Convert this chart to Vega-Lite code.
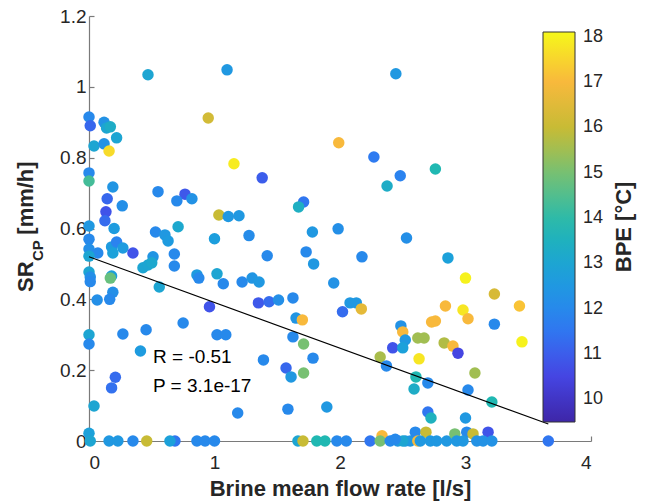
{
  "$schema": "https://vega.github.io/schema/vega-lite/v6.json",
  "width": 502,
  "height": 425,
  "autosize": {"type": "none"},
  "padding": {"left": 89, "top": 16, "right": 57, "bottom": 63},
  "background": "white",
  "config": {
    "view": {"stroke": null},
    "font": "Liberation Sans",
    "axis": {
      "grid": false,
      "domainColor": "#7a7a7a",
      "domainWidth": 1.2,
      "tickColor": "#7a7a7a",
      "tickWidth": 1.2,
      "tickSize": -5,
      "labelFont": "Liberation Sans",
      "labelFontSize": 19,
      "labelColor": "#262626",
      "titleFont": "Liberation Sans",
      "titleFontSize": 22,
      "titleFontWeight": "bold",
      "titleColor": "#262626"
    }
  },
  "layer": [
    {
      "data": {"values": [
        {"flow":0.47,"sr":1.034,"bpe":13.0},{"flow":1.10,"sr":1.048,"bpe":12.5},{"flow":0.0,"sr":0.915,"bpe":12.0},{"flow":0.01,"sr":0.89,"bpe":11.2},
        {"flow":0.12,"sr":0.90,"bpe":12.3},{"flow":0.14,"sr":0.884,"bpe":13.0},{"flow":0.17,"sr":0.887,"bpe":13.3},{"flow":0.22,"sr":0.856,"bpe":13.0},
        {"flow":0.04,"sr":0.833,"bpe":13.0},{"flow":0.12,"sr":0.839,"bpe":12.3},{"flow":0.16,"sr":0.819,"bpe":17.6},{"flow":0.95,"sr":0.912,"bpe":16.2},
        {"flow":1.155,"sr":0.783,"bpe":17.9},{"flow":0.0,"sr":0.757,"bpe":12.0},{"flow":0.0,"sr":0.734,"bpe":14.3},{"flow":0.19,"sr":0.717,"bpe":12.4},
        {"flow":0.55,"sr":0.704,"bpe":12.0},{"flow":0.765,"sr":0.697,"bpe":10.9},{"flow":0.70,"sr":0.678,"bpe":12.0},{"flow":0.82,"sr":0.684,"bpe":12.3},
        {"flow":0.145,"sr":0.684,"bpe":11.2},{"flow":0.265,"sr":0.664,"bpe":12.2},{"flow":0.135,"sr":0.647,"bpe":10.8},{"flow":0.127,"sr":0.622,"bpe":11.3},
        {"flow":1.38,"sr":0.743,"bpe":11.0},{"flow":1.71,"sr":0.675,"bpe":11.5},{"flow":1.67,"sr":0.661,"bpe":13.4},{"flow":1.035,"sr":0.638,"bpe":16.0},
        {"flow":1.11,"sr":0.634,"bpe":12.5},{"flow":1.195,"sr":0.636,"bpe":12.5},{"flow":0.71,"sr":0.605,"bpe":13.1},{"flow":0.0,"sr":0.607,"bpe":12.5},
        {"flow":0.2,"sr":0.60,"bpe":12.6},{"flow":1.78,"sr":0.59,"bpe":12.5},{"flow":1.275,"sr":0.58,"bpe":12.1},{"flow":0.53,"sr":0.59,"bpe":12.0},
        {"flow":0.605,"sr":0.582,"bpe":12.5},{"flow":0.63,"sr":0.565,"bpe":12.6},{"flow":1.0,"sr":0.571,"bpe":12.7},{"flow":0.0,"sr":0.57,"bpe":12.0},
        {"flow":2.445,"sr":1.037,"bpe":12.5},{"flow":1.99,"sr":0.842,"bpe":17.0},{"flow":2.27,"sr":0.802,"bpe":11.6},{"flow":2.76,"sr":0.768,"bpe":13.8},
        {"flow":2.48,"sr":0.749,"bpe":11.8},{"flow":2.375,"sr":0.72,"bpe":13.3},{"flow":1.985,"sr":0.599,"bpe":12.2},{"flow":2.53,"sr":0.573,"bpe":12.2},
        {"flow":0.0,"sr":0.542,"bpe":12.2},{"flow":0.07,"sr":0.531,"bpe":12.0},{"flow":0.18,"sr":0.548,"bpe":12.6},{"flow":0.22,"sr":0.562,"bpe":11.8},
        {"flow":0.27,"sr":0.545,"bpe":12.6},{"flow":0.35,"sr":0.531,"bpe":10.8},{"flow":0.19,"sr":0.531,"bpe":12.8},{"flow":0.0,"sr":0.522,"bpe":13.0},
        {"flow":0.51,"sr":0.52,"bpe":12.4},{"flow":0.68,"sr":0.528,"bpe":12.0},{"flow":0.68,"sr":0.494,"bpe":12.0},{"flow":0.43,"sr":0.489,"bpe":13.0},
        {"flow":0.47,"sr":0.497,"bpe":13.0},{"flow":0.50,"sr":0.503,"bpe":13.1},{"flow":0.0,"sr":0.477,"bpe":13.0},{"flow":0.01,"sr":0.463,"bpe":12.2},
        {"flow":0.01,"sr":0.45,"bpe":12.0},{"flow":0.18,"sr":0.466,"bpe":12.7},{"flow":0.17,"sr":0.46,"bpe":14.8},{"flow":0.86,"sr":0.469,"bpe":12.6},
        {"flow":0.875,"sr":0.46,"bpe":12.0},{"flow":1.02,"sr":0.472,"bpe":13.0},{"flow":1.07,"sr":0.444,"bpe":12.0},{"flow":1.22,"sr":0.449,"bpe":12.0},
        {"flow":0.56,"sr":0.435,"bpe":13.0},{"flow":0.19,"sr":0.42,"bpe":12.2},{"flow":0.065,"sr":0.398,"bpe":12.2},{"flow":0.165,"sr":0.40,"bpe":12.0},
        {"flow":1.30,"sr":0.46,"bpe":12.4},{"flow":1.355,"sr":0.449,"bpe":12.5},{"flow":0.96,"sr":0.379,"bpe":10.8},{"flow":0.75,"sr":0.333,"bpe":12.0},
        {"flow":1.02,"sr":0.30,"bpe":12.0},{"flow":1.09,"sr":0.30,"bpe":12.0},{"flow":0.0,"sr":0.30,"bpe":13.0},{"flow":0.0,"sr":0.274,"bpe":12.0},
        {"flow":0.27,"sr":0.302,"bpe":12.0},{"flow":0.455,"sr":0.314,"bpe":12.0},{"flow":0.41,"sr":0.254,"bpe":12.6},{"flow":0.18,"sr":0.15,"bpe":11.4},
        {"flow":0.21,"sr":0.18,"bpe":11.3},{"flow":0.04,"sr":0.099,"bpe":13.0},{"flow":0.0,"sr":0.022,"bpe":12.8},{"flow":1.35,"sr":0.39,"bpe":10.9},
        {"flow":1.435,"sr":0.393,"bpe":11.3},{"flow":1.51,"sr":0.398,"bpe":12.2},{"flow":1.625,"sr":0.404,"bpe":12.0},{"flow":1.65,"sr":0.347,"bpe":12.4},
        {"flow":1.70,"sr":0.342,"bpe":17.0},{"flow":1.625,"sr":0.294,"bpe":12.0},{"flow":1.71,"sr":0.274,"bpe":15.0},{"flow":1.39,"sr":0.229,"bpe":12.0},
        {"flow":1.57,"sr":0.206,"bpe":11.2},{"flow":1.61,"sr":0.181,"bpe":12.5},{"flow":1.71,"sr":0.192,"bpe":15.0},{"flow":1.785,"sr":0.234,"bpe":12.0},
        {"flow":1.585,"sr":0.09,"bpe":12.0},{"flow":1.185,"sr":0.079,"bpe":12.0},{"flow":1.895,"sr":0.096,"bpe":12.5},{"flow":1.42,"sr":0.523,"bpe":12.0},
        {"flow":1.73,"sr":0.534,"bpe":12.0},{"flow":1.79,"sr":0.50,"bpe":12.5},{"flow":2.175,"sr":0.52,"bpe":12.0},{"flow":1.95,"sr":0.446,"bpe":12.3},
        {"flow":2.08,"sr":0.39,"bpe":12.5},{"flow":2.13,"sr":0.39,"bpe":12.5},{"flow":2.02,"sr":0.365,"bpe":11.3},{"flow":2.17,"sr":0.373,"bpe":16.6},
        {"flow":2.485,"sr":0.325,"bpe":12.3},{"flow":2.5,"sr":0.308,"bpe":17.0},{"flow":2.52,"sr":0.285,"bpe":12.5},{"flow":2.42,"sr":0.263,"bpe":10.8},
        {"flow":2.5,"sr":0.263,"bpe":12.8},{"flow":2.32,"sr":0.237,"bpe":15.6},{"flow":2.37,"sr":0.212,"bpe":12.0},{"flow":1.665,"sr":0.0,"bpe":13.0},
        {"flow":1.705,"sr":0.0,"bpe":16.0},{"flow":1.815,"sr":0.0,"bpe":13.8},{"flow":1.88,"sr":0.0,"bpe":13.8},{"flow":1.975,"sr":0.0,"bpe":12.0},
        {"flow":2.05,"sr":0.0,"bpe":12.0},{"flow":2.24,"sr":0.0,"bpe":11.5},{"flow":2.335,"sr":0.015,"bpe":17.0},{"flow":2.32,"sr":0.0,"bpe":15.0},
        {"flow":2.40,"sr":0.0,"bpe":12.0},{"flow":2.46,"sr":0.0,"bpe":12.5},{"flow":2.52,"sr":0.0,"bpe":12.5},{"flow":2.56,"sr":0.0,"bpe":12.5},
        {"flow":2.6,"sr":0.025,"bpe":12.0},{"flow":2.62,"sr":0.0,"bpe":17.0},{"flow":2.685,"sr":0.025,"bpe":16.0},{"flow":2.70,"sr":0.082,"bpe":11.5},
        {"flow":2.725,"sr":0.065,"bpe":13.5},{"flow":2.64,"sr":0.0,"bpe":12.5},{"flow":2.72,"sr":0.0,"bpe":12.5},{"flow":2.77,"sr":0.0,"bpe":12.5},
        {"flow":2.85,"sr":0.0,"bpe":12.5},{"flow":2.915,"sr":0.02,"bpe":15.0},{"flow":3.0,"sr":0.065,"bpe":12.5},{"flow":3.01,"sr":0.025,"bpe":12.0},
        {"flow":3.06,"sr":0.02,"bpe":16.0},{"flow":3.18,"sr":0.025,"bpe":10.8},{"flow":3.09,"sr":0.0,"bpe":12.3},{"flow":3.14,"sr":0.0,"bpe":12.3},
        {"flow":3.21,"sr":0.0,"bpe":12.3},{"flow":3.21,"sr":0.11,"bpe":13.8},{"flow":3.66,"sr":0.0,"bpe":11.5},{"flow":2.93,"sr":0.0,"bpe":12.5},
        {"flow":2.98,"sr":0.0,"bpe":12.5},{"flow":0.01,"sr":0.0,"bpe":13.0},{"flow":0.16,"sr":0.0,"bpe":12.5},{"flow":0.23,"sr":0.0,"bpe":12.5},
        {"flow":0.35,"sr":0.0,"bpe":12.0},{"flow":0.46,"sr":0.0,"bpe":16.0},{"flow":0.685,"sr":0.0,"bpe":11.5},{"flow":0.645,"sr":0.0,"bpe":12.8},
        {"flow":0.86,"sr":0.0,"bpe":12.0},{"flow":0.925,"sr":0.0,"bpe":12.0},{"flow":1.0,"sr":0.0,"bpe":12.0},{"flow":3.0,"sr":0.46,"bpe":18.0},
        {"flow":3.23,"sr":0.415,"bpe":16.3},{"flow":2.84,"sr":0.381,"bpe":17.0},{"flow":3.43,"sr":0.381,"bpe":17.2},{"flow":2.98,"sr":0.37,"bpe":17.8},
        {"flow":3.02,"sr":0.345,"bpe":17.0},{"flow":2.73,"sr":0.336,"bpe":17.0},{"flow":2.76,"sr":0.339,"bpe":17.0},{"flow":3.23,"sr":0.33,"bpe":12.0},
        {"flow":2.62,"sr":0.291,"bpe":15.5},{"flow":2.67,"sr":0.291,"bpe":15.5},{"flow":2.83,"sr":0.277,"bpe":15.7},{"flow":2.90,"sr":0.268,"bpe":17.0},
        {"flow":2.94,"sr":0.248,"bpe":10.5},{"flow":3.45,"sr":0.28,"bpe":18.0},{"flow":2.63,"sr":0.232,"bpe":17.8},{"flow":3.075,"sr":0.192,"bpe":15.5},
        {"flow":2.605,"sr":0.181,"bpe":13.8},{"flow":2.70,"sr":0.164,"bpe":12.0},{"flow":2.59,"sr":0.147,"bpe":13.3},{"flow":3.02,"sr":0.144,"bpe":12.0},
        {"flow":2.86,"sr":0.517,"bpe":12.8},{"flow":2.5,"sr":0.0,"bpe":13.0},{"flow":2.44,"sr":0.005,"bpe":12.0}
      ]},
      "mark": {"type": "circle", "size": 132, "opacity": 1, "stroke": null},
      "encoding": {
        "x": {"field": "flow", "type": "quantitative", "title": "Brine mean flow rate [l/s]",
              "scale": {"domain": [0, 4], "nice": false, "zero": false},
              "axis": {"values": [0, 1, 2, 3, 4], "format": "d", "labelPadding": 17, "titlePadding": 6}},
        "y": {"field": "sr", "type": "quantitative", "title": null,
              "scale": {"domain": [0, 1.2], "nice": false, "zero": false},
              "axis": {"values": [0, 0.2, 0.4, 0.6, 0.8, 1, 1.2], "format": "~g", "labelPadding": 8}},
        "color": {"field": "bpe", "type": "quantitative",
          "scale": {
            "domain": [9.5, 10.575, 11.65, 12.725, 13.8, 14.875, 15.95, 17.025, 18.1],
            "range": ["#3E26A8", "#4547E6", "#2D7EF2", "#1C9FDD", "#20B8B2", "#6DC17A", "#C6BB35", "#F9B93C", "#F6F81A"],
            "interpolate": "rgb"
          },
          "legend": {
            "orient": "none", "legendX": 454, "legendY": 16, "direction": "vertical",
            "title": null, "gradientLength": 390, "gradientThickness": 32,
            "gradientStrokeColor": "#333333", "gradientStrokeWidth": 1,
            "values": [10, 11, 12, 13, 14, 15, 16, 17, 18],
            "labelFont": "Liberation Sans", "labelFontSize": 18, "labelColor": "#262626",
            "labelOffset": 8, "padding": 0, "offset": 0
          }
        }
      }
    },
    {
      "data": {"values": [{"flow": 0, "sr": 0.52}, {"flow": 3.66, "sr": 0.048}]},
      "mark": {"type": "line", "color": "#000000", "strokeWidth": 1.1},
      "encoding": {
        "x": {"field": "flow", "type": "quantitative", "title": "Brine mean flow rate [l/s]", "scale": {"domain": [0, 4]}},
        "y": {"field": "sr", "type": "quantitative", "title": null, "scale": {"domain": [0, 1.2]}}
      }
    },
    {
      "data": {"values": [{}]},
      "mark": {"type": "text", "text": "R = -0.51", "font": "Liberation Sans", "fontSize": 19, "color": "#000000", "align": "left", "baseline": "alphabetic"},
      "encoding": {
        "x": {"datum": 0.51, "type": "quantitative", "title": "Brine mean flow rate [l/s]", "scale": {"domain": [0, 4]}},
        "y": {"datum": 0.22, "type": "quantitative", "title": null, "scale": {"domain": [0, 1.2]}}
      }
    },
    {
      "data": {"values": [{}]},
      "mark": {"type": "text", "text": "P = 3.1e-17", "font": "Liberation Sans", "fontSize": 19, "color": "#000000", "align": "left", "baseline": "alphabetic"},
      "encoding": {
        "x": {"datum": 0.51, "type": "quantitative", "title": "Brine mean flow rate [l/s]", "scale": {"domain": [0, 4]}},
        "y": {"datum": 0.138, "type": "quantitative", "title": null, "scale": {"domain": [0, 1.2]}}
      }
    },
    {
      "data": {"values": [{}]},
      "mark": {"type": "text", "text": "SR", "font": "Liberation Sans", "fontSize": 22, "fontWeight": "bold", "color": "#262626", "align": "left", "baseline": "alphabetic", "angle": 270},
      "encoding": {
        "x": {"datum": -0.446, "type": "quantitative", "title": "Brine mean flow rate [l/s]", "scale": {"domain": [0, 4]}},
        "y": {"datum": 0.421, "type": "quantitative", "title": null, "scale": {"domain": [0, 1.2]}}
      }
    },
    {
      "data": {"values": [{}]},
      "mark": {"type": "text", "text": "CP", "font": "Liberation Sans", "fontSize": 15, "fontWeight": "bold", "color": "#262626", "align": "left", "baseline": "alphabetic", "angle": 270},
      "encoding": {
        "x": {"datum": -0.3665, "type": "quantitative", "title": "Brine mean flow rate [l/s]", "scale": {"domain": [0, 4]}},
        "y": {"datum": 0.508, "type": "quantitative", "title": null, "scale": {"domain": [0, 1.2]}}
      }
    },
    {
      "data": {"values": [{}]},
      "mark": {"type": "text", "text": "[mm/h]", "font": "Liberation Sans", "fontSize": 22, "fontWeight": "bold", "color": "#262626", "align": "left", "baseline": "alphabetic", "angle": 270},
      "encoding": {
        "x": {"datum": -0.446, "type": "quantitative", "title": "Brine mean flow rate [l/s]", "scale": {"domain": [0, 4]}},
        "y": {"datum": 0.5825, "type": "quantitative", "title": null, "scale": {"domain": [0, 1.2]}}
      }
    },
    {
      "data": {"values": [{}]},
      "mark": {"type": "text", "text": "BPE [°C]", "font": "Liberation Sans", "fontSize": 22, "fontWeight": "bold", "color": "#262626", "align": "center", "baseline": "alphabetic", "angle": 270},
      "encoding": {
        "x": {"datum": 4.319, "type": "quantitative", "title": "Brine mean flow rate [l/s]", "scale": {"domain": [0, 4]}},
        "y": {"datum": 0.6045, "type": "quantitative", "title": null, "scale": {"domain": [0, 1.2]}}
      }
    }
  ]
}
